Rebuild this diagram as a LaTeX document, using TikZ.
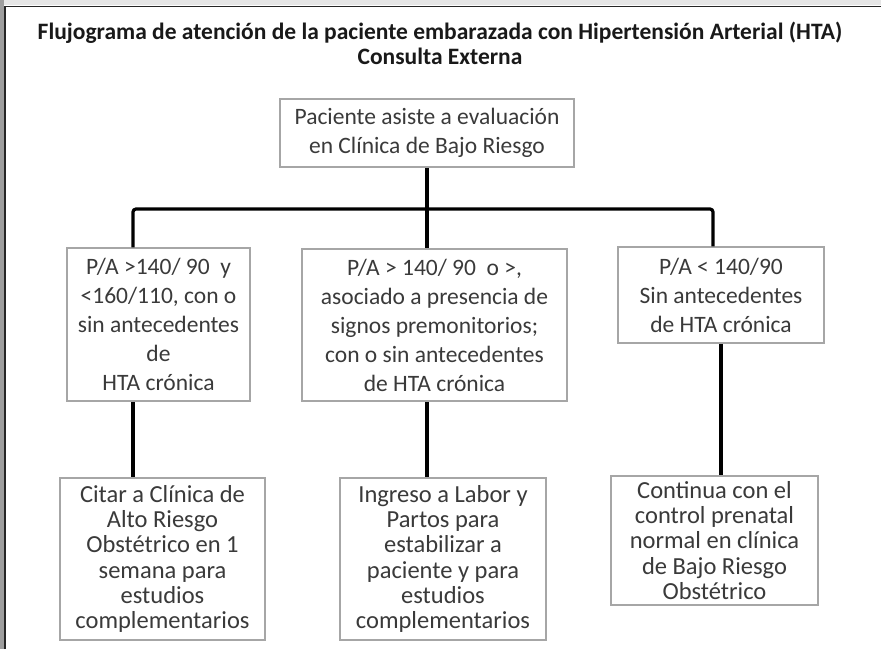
\documentclass[tikz,border=0pt]{standalone}
\usepackage{fontspec}
\setmainfont{Carlito}
\definecolor{boxgray}{HTML}{A6A6A6}
\definecolor{textgray}{HTML}{3A3A3A}
\definecolor{bandgray}{HTML}{9E9E9E}
\definecolor{topband}{HTML}{E6E6E6}
\tikzset{
  box/.style={draw=boxgray, line width=1.5pt, align=center, text=textgray,
    font=\fontsize{23.5}{29}\selectfont, inner sep=0pt},
  lowbox/.style={box, font=\fontsize{24.5}{25.3}\selectfont},
  link/.style={line width=3.2pt, black},
}
\begin{document}
\begin{tikzpicture}[x=1pt,y=-1pt]
\useasboundingbox (0,0) rectangle (881,649);
% frame
\fill[white] (0,0) rectangle (881,649);
\fill[bandgray] (0,0) rectangle (4,649);
\fill[topband] (4,0) rectangle (881,5);
\draw[line width=1.6pt, black!85] (5,649) -- (5,6.5) -- (881,6.5);
% title
\node[align=center, font=\fontsize{23.5}{25}\bfseries\selectfont, text=black!90] (title) at (440,43)
  {Flujograma de atención de la paciente embarazada con Hipertensión Arterial (HTA)\\Consulta Externa};
% boxes
\node[box, minimum width=294pt, minimum height=68pt] (top) at (427,133)
  {Paciente asiste a evaluación\\en Clínica de Bajo Riesgo};
\node[box, minimum width=183pt, minimum height=153pt] (m1) at (158.5,324.5)
  {P/A >140/ 90 \ y\\<160/110, con o\\sin antecedentes\\de\\HTA crónica};
\node[box, minimum width=265pt, minimum height=152pt] (m2) at (434.5,325)
  {P/A > 140/ 90 \ o >,\\asociado a presencia de\\signos premonitorios;\\con o sin antecedentes\\de HTA crónica};
\node[box, minimum width=206pt, minimum height=96pt] (m3) at (721,295)
  {P/A < 140/90\\Sin antecedentes\\de HTA crónica};
\node[lowbox, minimum width=205pt, minimum height=162pt] (b1) at (162.5,559)
  {Citar a Clínica de\\Alto Riesgo\\Obstétrico en 1\\semana para\\estudios\\complementarios};
\node[lowbox, minimum width=206pt, minimum height=162pt] (b2) at (443,559)
  {Ingreso a Labor y\\Partos para\\estabilizar a\\paciente y para\\estudios\\complementarios};
\node[lowbox, minimum width=207pt, minimum height=129pt] (b3) at (714.5,540.5)
  {Continua con el\\control prenatal\\normal en clínica\\de Bajo Riesgo\\Obstétrico};
% connectors
\coordinate (hL) at (133,209);
\coordinate (hR) at (713,209);
\draw[link] (top.south) -- (top.south |- hL);
\draw[link, rounded corners=3pt] (m1.north -| hL) -- (hL) -- (hR) -- (m3.north -| hR);
\draw[link] (top.south |- hL) -- (top.south |- m2.north);
\draw[link] (m1.south -| hL) -- (b1.north -| hL);
\draw[link] (top.south |- m2.south) -- (top.south |- b2.north);
\draw[link] (m3.south) -- (m3.south |- b3.north);
\end{tikzpicture}
\end{document}
